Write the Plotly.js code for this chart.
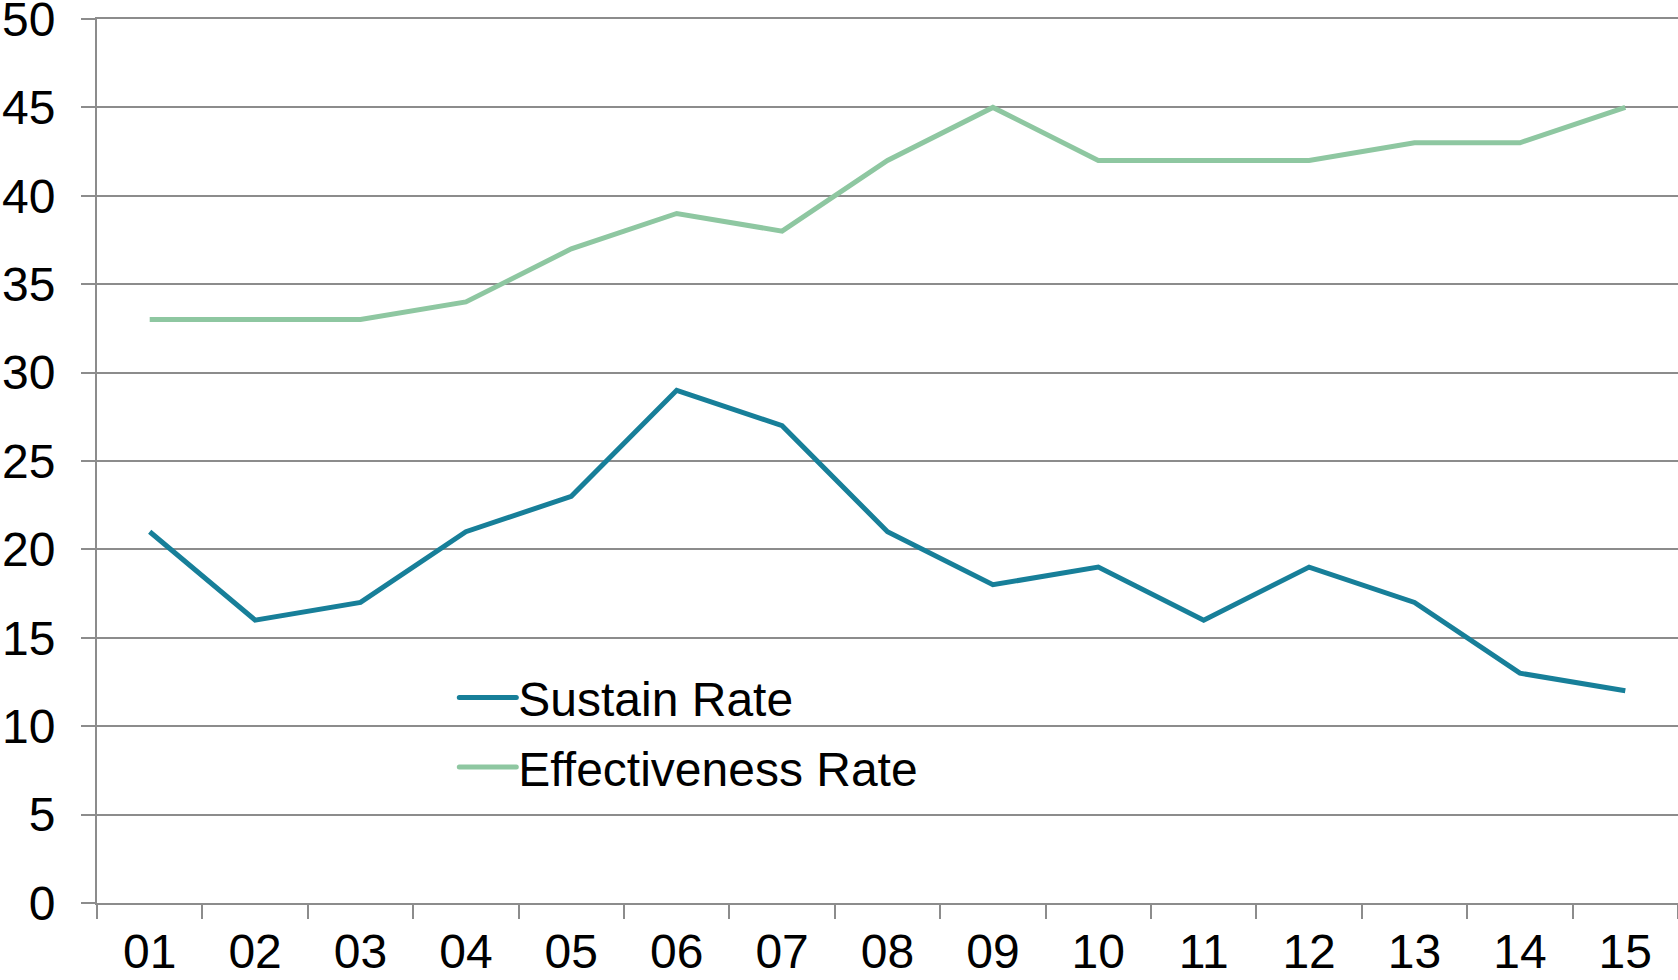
<!DOCTYPE html>
<html>
<head>
<meta charset="utf-8">
<script src="https://cdn.plot.ly/plotly-3.0.1.min.js"></script>
<style>html,body{margin:0;padding:0;background:#fff;}#chart{width:1678px;height:980px;}</style>
</head>
<body>
<div id="chart"></div>
<script>
const categories = ["01","02","03","04","05","06","07","08","09","10","11","12","13","14","15"];
const sustainRate = [21,16,17,21,23,29,27,21,18,19,16,19,17,13,12];
const effectivenessRate = [33,33,33,34,37,39,38,42,45,42,42,42,43,43,45];
const yTicks = [0,5,10,15,20,25,30,35,40,45,50];

const font = {family: "Liberation Sans, Arial, sans-serif", size: 48, color: "#000"};
const gray = "#8c8c8c";

const traces = [
  {x: categories, y: sustainRate, name: "Sustain Rate", type: "scatter", mode: "lines",
   line: {color: "#177f99", width: 5}, legendgroup: "a"},
  {x: categories, y: effectivenessRate, name: "Effectiveness Rate", type: "scatter", mode: "lines",
   line: {color: "#8ec7a1", width: 5}, legendgroup: "b"}
];

const layout = {
  width: 1678, height: 980,
  margin: {l: 97, r: 0, t: 19, b: 77},
  paper_bgcolor: "#fff", plot_bgcolor: "#fff",
  font: font,
  showlegend: true,
  legend: {x: 0.226, y: 0.275, xanchor: "left", yanchor: "top", bgcolor: "rgba(0,0,0,0)",
           font: font, tracegroupgap: 4, itemwidth: 30},
  xaxis: {
    type: "category", range: [-0.5, 14.5], tickmode: "array", tickvals: categories, ticktext: categories,
    tickson: "boundaries", ticks: "outside", ticklen: 14, tickwidth: 2, tickcolor: gray,
    showline: true, linecolor: gray, linewidth: 2, mirror: true,
    showgrid: false, zeroline: false, tickfont: font, ticklabelstandoff: 5, ticklabeloverflow: "allow"
  },
  yaxis: {
    range: [0, 50], tickmode: "array", tickvals: yTicks, ticktext: yTicks.map(String),
    ticks: "outside", ticklen: 14, tickwidth: 2, tickcolor: gray,
    showline: true, linecolor: gray, linewidth: 2,
    showgrid: true, gridcolor: gray, gridwidth: 2, zeroline: false,
    tickfont: font, ticklabelstandoff: 16, ticklabeloverflow: "allow"
  }
};

Plotly.newPlot("chart", traces, layout, {displayModeBar: false, staticPlot: true}).then(function (gd) {
  // lengthen legend line samples and shift legend text to match the reference
  gd.querySelectorAll(".legend").forEach(function (lg) {
    lg.querySelectorAll("[clip-path]").forEach(function (el) { el.removeAttribute("clip-path"); });
  });
  gd.querySelectorAll(".legend .traces").forEach(function (g) {
    g.querySelectorAll(".legendlines path").forEach(function (p) {
      p.setAttribute("d", "M5,0h57");
      p.style.strokeLinecap = "round";
    });
    const t = g.querySelector("text.legendtext");
    if (t) t.setAttribute("x", "64");
  });
});
</script>
</body>
</html>
